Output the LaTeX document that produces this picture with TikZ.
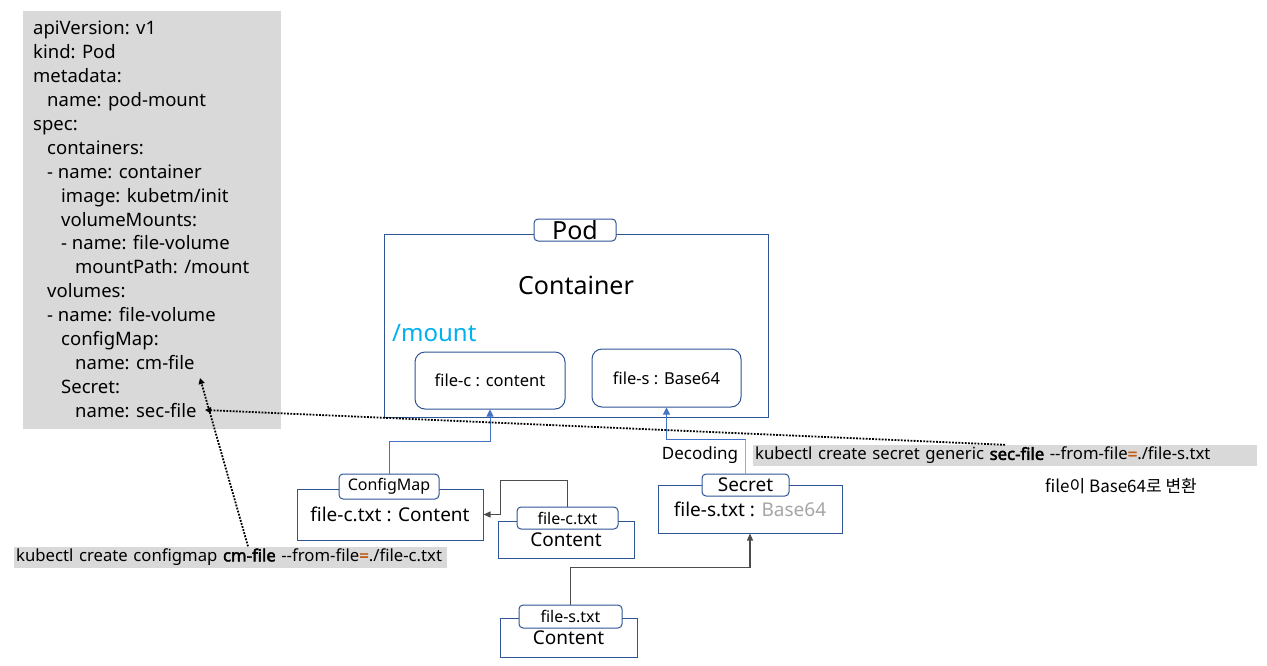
\documentclass[tikz,border=0pt]{standalone}
\usepackage{fontspec}
\setmainfont{Noto Sans}[AutoFakeBold=2.5]
\newfontfamily\krfont{Noto Sans CJK KR}
\usetikzlibrary{arrows.meta}

\definecolor{boxblue}{HTML}{2F5597}
\definecolor{arrowblue}{HTML}{4472C4}
\definecolor{paleblue}{HTML}{8FAADC}
\definecolor{yamlgray}{HTML}{D9D9D9}
\definecolor{mountcyan}{HTML}{00B0F0}
\definecolor{eqorange}{HTML}{C55A11}
\definecolor{basegray}{HTML}{A6A6A6}

% two hyphens without the en dash ligature
\newcommand{\twodash}{-\kern0pt-}

\begin{document}
\begin{tikzpicture}[x=1pt, y=-1pt,
        box/.style = {draw=boxblue,
            line width=1pt,
            fill=white,
            inner sep=0pt
        },
        tag/.style = {box,
            rounded corners=4pt
        },
        cmd/.style = {fill=yamlgray,
            inner xsep=2pt,
            inner ysep=0pt,
            minimum height=21pt,
            align=left,
            anchor=west,
            font=\fontsize{16.7}{19}\selectfont
        },
        small/.style = {font=\fontsize{16}{19}\selectfont},
        mid/.style = {font=\fontsize{19}{22}\selectfont},
        big/.style = {font=\fontsize{25}{30}\selectfont},
        blueline/.style = {draw=arrowblue, line width=1pt},
        paleline/.style = {draw=paleblue, line width=1.5pt},
        bluearrow/.style = {blueline,
            -{Triangle[length=7pt,width=7pt]}},
        grayarrow/.style = {draw=black!70,
            line width=1.2pt,
            -{Triangle[length=7pt,width=6pt]}},
        dotarrow/.style = {line width=1.8pt,
            dash pattern=on 1.8pt off 1.4pt,
            -{Triangle[length=6pt,width=6pt]}}
    ]

    \useasboundingbox (0,0) rectangle (1267,665);

    % YAML manifest
    \node [fill=yamlgray, minimum width=258pt, minimum height=418pt,
        inner sep=0pt] (yaml) at (152,220) {};
    \node [anchor=north west, align=left, inner sep=0pt,
        font=\fontsize{18.5}{23.9}\selectfont] (yamltext) at (33,21) {%
        apiVersion: v1\\
        kind: Pod\\
        metadata:\\
        \hspace*{14pt}name: pod-mount\\
        spec:\\
        \hspace*{14pt}containers:\\
        \hspace*{14pt}- name: container\\
        \hspace*{28pt}image: kubetm/init\\
        \hspace*{28pt}volumeMounts:\\
        \hspace*{28pt}- name: file-volume\\
        \hspace*{42pt}mountPath: /mount\\
        \hspace*{14pt}volumes:\\
        \hspace*{14pt}- name: file-volume\\
        \hspace*{28pt}configMap:\\
        \hspace*{42pt}name: cm-file\\
        \hspace*{28pt}Secret:\\
        \hspace*{42pt}name: sec-file};

    % Pod
    \node [box, minimum width=384pt, minimum height=183pt] (pod) at (576,325.5) {};
    \node [tag, big, minimum width=82pt, minimum height=22pt] (podtag) at (575,230) {Pod};
    \node [big] (ctr) at (576,285) {Container};
    \node [anchor=west, inner sep=0pt, text=mountcyan,
        font=\fontsize{24}{28}\selectfont] (mnt) at (392,333) {/mount};

    % mounted files
    \node [tag, rounded corners=10pt, minimum width=150pt, minimum height=57pt,
        font=\fontsize{16.5}{19}\selectfont] (fc) at (490,380.5) {file-c : content};
    \node [tag, rounded corners=10pt, minimum width=149pt, minimum height=58pt,
        font=\fontsize{16.5}{19}\selectfont] (fs) at (666.5,378) {file-s : Base64};

    % ConfigMap
    \node [box, mid, minimum width=186pt, minimum height=51pt] (cm) at (390,514.5) {file-c.txt : Content};
    \node [tag, small, minimum width=100pt, minimum height=25pt] (cmtag) at (389,486.5) {ConfigMap};

    % file-c.txt
    \node [box, mid, minimum width=136pt, minimum height=37pt] (fct) at (566,539.5) {Content};
    \node [tag, small, minimum width=101pt, minimum height=22pt] (fcttag) at (567.5,518) {file-c.txt};

    % Secret
    \node [box, mid, minimum width=184pt, minimum height=48pt] (sec) at (750,509)
        {file-s.txt : \textcolor{basegray}{Base64}};
    \node [tag, mid, minimum width=87pt, minimum height=22pt] (sectag) at (745.5,485) {Secret};

    % file-s.txt
    \node [box, mid, minimum width=137pt, minimum height=39pt] (fst) at (568.5,637.5) {Content};
    \node [tag, small, minimum width=103pt, minimum height=23pt] (fsttag) at (570.5,616.5) {file-s.txt};

    % kubectl commands
    \node [cmd, text width=500pt] (seccmd) at (753,455.5)
        {kubectl create secret generic \textbf{sec-file} \twodash from-file\textcolor{eqorange}{\textbf{=}}./file-s.txt};
    \node [cmd, text width=429pt] (cmcmd) at (14,557)
        {kubectl create configmap \textbf{cm-file} \twodash from-file\textcolor{eqorange}{\textbf{=}}./file-c.txt};
    \node [font=\krfont\fontsize{17}{20}\selectfont] (note) at (1121,486) {file이 Base64로 변환};
    \node [font=\fontsize{17}{20}\selectfont] (dec) at (700,455) {Decoding};

    % connectors into the pod
    \draw [bluearrow] (cmtag.north) -- ++(0,-32) -| (fc.south);
    \draw [paleline] (sectag.north) -- ++(0,-34) coordinate (sbend);
    \draw [bluearrow] (sbend) -| (fs.south);

    % files into ConfigMap and Secret
    \draw [grayarrow] (fcttag.north) -- ++(0,-26) -- ++(-67,0) |- (cm.east);
    \draw [grayarrow] (fsttag.north) -- ++(0,-37) -| (sec.south);

    % names used in the YAML
    \coordinate (secname) at (205,410);
    \coordinate (cmname) at (200,378);
    \draw [dotarrow] ([xshift=252pt]seccmd.north west) -- (secname);
    \draw [dotarrow] ([xshift=234pt]cmcmd.north west) -- (cmname);

\end{tikzpicture}
\end{document}
